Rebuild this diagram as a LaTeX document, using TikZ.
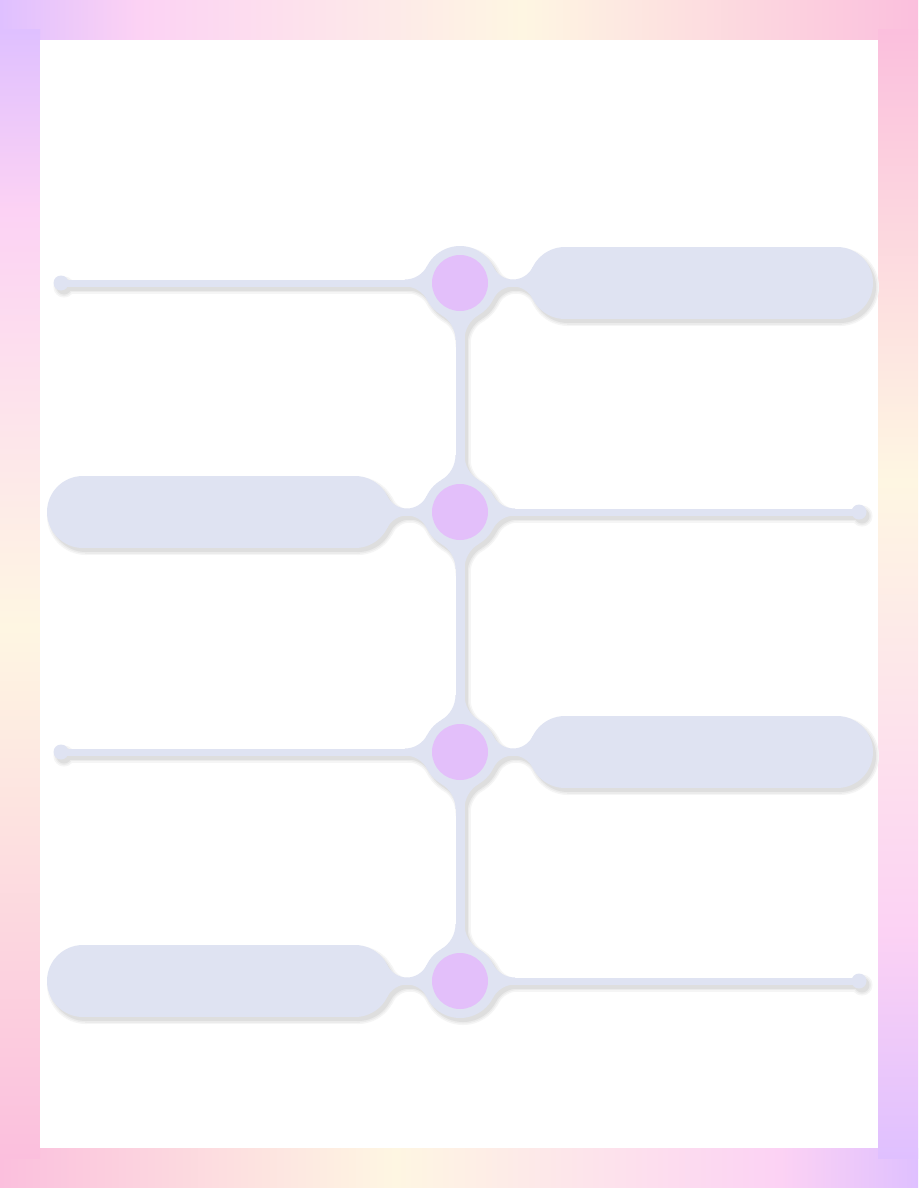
\documentclass[tikz,border=0pt]{standalone}
\usetikzlibrary{calc}

\definecolor{edgepurple}{HTML}{DFC0FF}
\definecolor{edgepink}{HTML}{FCD2F4}
\definecolor{edgecream}{HTML}{FEF6E2}
\definecolor{edgerose}{HTML}{FBBFDD}
\definecolor{tubec}{HTML}{DFE3F2}
\definecolor{hubc}{HTML}{E3BFFA}

% frame gradients (path is fitted to 25bp--75bp)
\pgfdeclarehorizontalshading{edgetop}{100bp}{color(0bp)=(edgepurple); color(25bp)=(edgepurple); color(32.5bp)=(edgepink); color(53.5bp)=(edgecream); color(75bp)=(edgerose); color(100bp)=(edgerose)}
\pgfdeclarehorizontalshading{edgebottom}{100bp}{color(0bp)=(edgerose); color(25bp)=(edgerose); color(46.5bp)=(edgecream); color(67.5bp)=(edgepink); color(75bp)=(edgepurple); color(100bp)=(edgepurple)}
\pgfdeclareverticalshading{edgeleft}{100bp}{color(0bp)=(edgerose); color(25bp)=(edgerose); color(48.5bp)=(edgecream); color(67bp)=(edgepink); color(75bp)=(edgepurple); color(100bp)=(edgepurple)}
\pgfdeclareverticalshading{edgeright}{100bp}{color(0bp)=(edgepurple); color(25bp)=(edgepurple); color(35bp)=(edgepink); color(55bp)=(edgecream); color(75bp)=(edgerose); color(100bp)=(edgerose)}

% concave flare between a circle (radius #3) at #1 and a bar (half width #4) leaving at angle #2
\newcommand\fillet[5]{%
	\pgfmathsetmacro\fa{sqrt((#3+#5)^2-(#4+#5)^2)}%
	\pgfmathsetmacro\fend{-180+atan((#4+#5)/\fa)}%
	\begin{scope}[shift={(#1)}, rotate=#2]
		\foreach \sy in {1,-1}
			\fill[tube, yscale=\sy] (0,0) -- (\fa,0) -- (\fa,#4) arc[start angle=-90, end angle=\fend, radius=#5] -- cycle;
	\end{scope}}

% the whole light tube work: spine, rings, necks, pills, lines, dots
\newcommand\timeline{%
	\fill[tube] ($(h1)+(-4.5,0)$) rectangle ($(h4)+(4.5,0)$);
	\fillet{h1}{-90}{37}{4.5}{29}
	\fillet{h2}{90}{37}{4.5}{29}
	\fillet{h2}{-90}{37}{4.5}{29}
	\fillet{h3}{90}{37}{4.5}{29}
	\fillet{h3}{-90}{37}{4.5}{29}
	\fillet{h4}{90}{37}{4.5}{29}
	\foreach \i/\s in {1/1,2/-1,3/1,4/-1} {
		\pgfmathsetmacro\pa{90-90*\s}
		\pgfmathsetmacro\la{90+90*\s}
		\fill[tube] (h\i) circle[radius=37];
		% neck and pill
		\fill[tube] ($(h\i)+(0,-3.5)$) rectangle ($(n\i)+(0,3.5)$);
		\fill[tube] ($(n\i)+(0,-36)$) rectangle ($(f\i)+(0,36)$);
		\fill[tube] (n\i) circle[radius=36] (f\i) circle[radius=36];
		\fillet{h\i}{\pa}{37}{3.5}{22}
		\fillet{n\i}{\la}{36}{3.5}{22}
		% line and dot
		\fill[tube] ($(h\i)+(0,-3.5)$) rectangle ($(d\i)+(0,3.5)$);
		\fill[tube] (d\i) circle[radius=7.5];
		\fillet{h\i}{\la}{37}{3.5}{25}
	}}

\begin{document}
\begin{tikzpicture}[x=1pt, y=-1pt,
	tube/.style={fill=tubec},
	hub/.style={fill=hubc}
	]
	\useasboundingbox (0,0) rectangle (918,1188);
	% frame
	\shade[shading=edgetop] (0,0) rectangle (918,40);
	\shade[shading=edgebottom] (0,1148) rectangle (918,1188);
	\shade[shading=edgeleft] (0,30) rectangle (40,1158);
	\shade[shading=edgeright] (878,30) rectangle (918,1158);
	\fill[white] (40,40) rectangle (878,1148);

	% rows: hub, near pill end, far pill end, dot
	\foreach \i/\y/\s in {1/283/1,2/512/-1,3/752/1,4/981/-1} {
		\coordinate (h\i) at (460,\y);
		\coordinate (n\i) at ({460+105*\s},\y);
		\coordinate (f\i) at ({460+377*\s},\y);
		\coordinate (d\i) at ({460-399*\s},\y);
	}

	% soft shadow
	\begin{scope}[transform canvas={shift={(3pt,-4pt)}}, tube/.style={fill=black!4, draw=black!4, line width=6pt}]
		\timeline
	\end{scope}
	\begin{scope}[transform canvas={shift={(3pt,-4pt)}}, tube/.style={fill=black!8, draw=black!8, line width=3pt}]
		\timeline
	\end{scope}
	\begin{scope}[transform canvas={shift={(3pt,-4pt)}}, tube/.style={fill=black!13}]
		\timeline
	\end{scope}

	\timeline
	\foreach \i in {1,...,4}
		\fill[hub] (h\i) circle[radius=28];
\end{tikzpicture}
\end{document}
